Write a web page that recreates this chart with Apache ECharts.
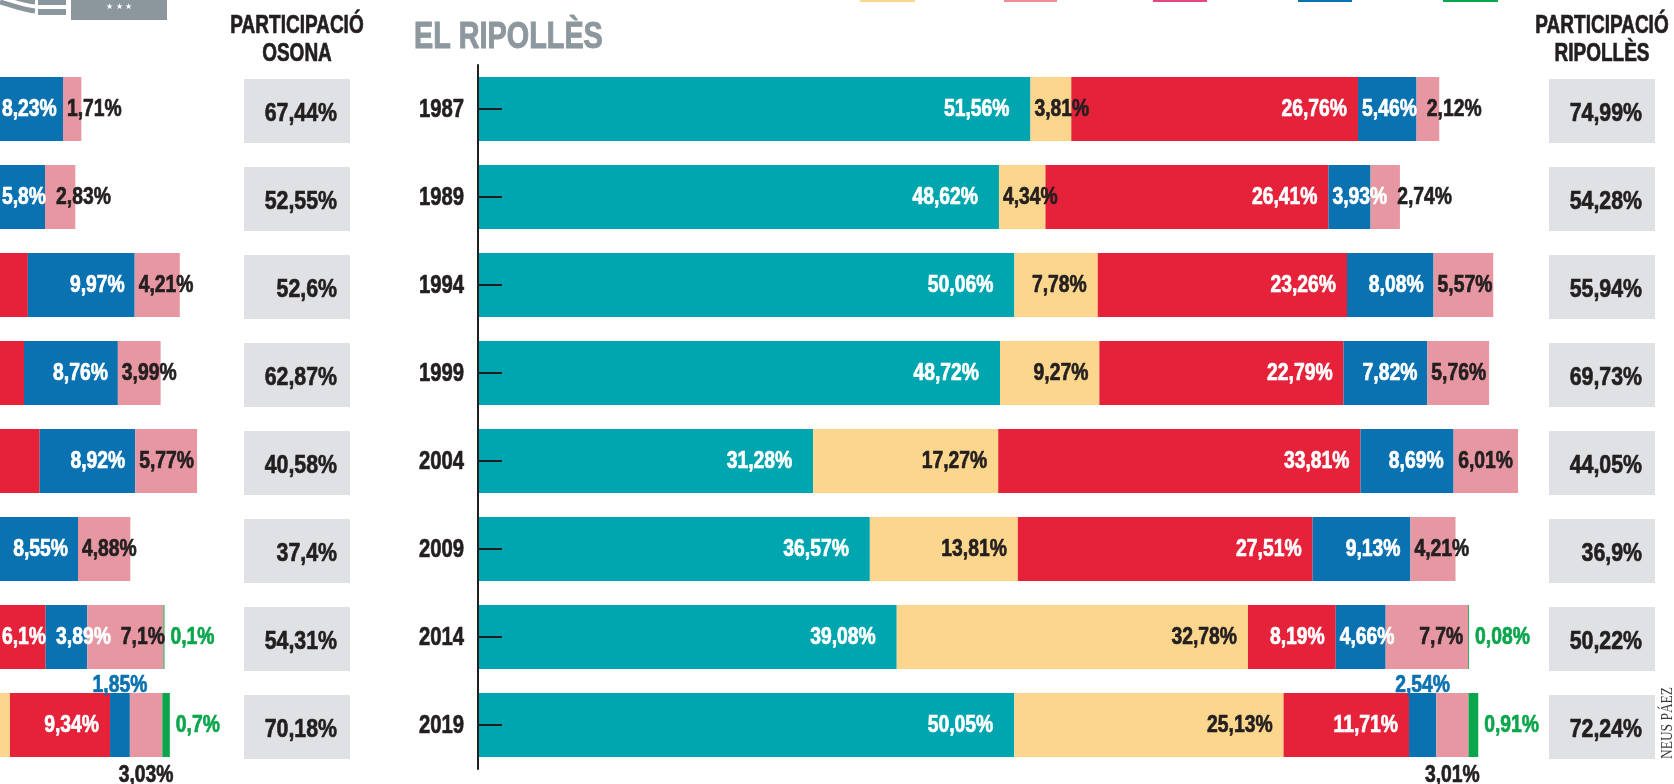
<!DOCTYPE html>
<html>
<head>
<meta charset="utf-8">
<title>Eleccions europees - Osona i el Ripollès</title>
<script src="https://cdn.jsdelivr.net/npm/echarts@6/dist/echarts.min.js"></script>
<style>
  html, body { margin: 0; padding: 0; background: #fff; }
  #chart { width: 1674px; height: 784px; }
</style>
</head>
<body>
<div id="chart"></div>
<script>
const years = ['1987', '1989', '1994', '1999', '2004', '2009', '2014', '2019'];

// El Ripollès, % of the vote
const ripCiu = [51.56, 48.62, 50.06, 48.72, 31.28, 36.57, 39.08, 50.05];
const ripErc = [3.81, 4.34, 7.78, 9.27, 17.27, 13.81, 32.78, 25.13];
const ripPsc = [26.76, 26.41, 23.26, 22.79, 33.81, 27.51, 8.19, 11.71];
const ripPp = [5.46, 3.93, 8.08, 7.82, 8.69, 9.13, 4.66, 2.54];
const ripIcv = [2.12, 2.74, 5.57, 5.76, 6.01, 4.21, 7.7, 3.01];
const ripVox = [0, 0, 0, 0, 0, 0, 0.08, 0.91];
const ripTurnout = [74.99, 54.28, 55.94, 69.73, 44.05, 36.9, 50.22, 72.24];

// Osona: the start of these bars is cut off in the picture,
// so the first three rows are rough estimates
const osoCiu = [55.32, 52.6, 54.3, 51.9, 34.6, 41.1, 40.52, 52.1];
const osoErc = [3.48, 5.9, 8.9, 11.2, 21.4, 16.3, 35.14, 26.33];
const osoPsc = [16.35, 17.4, 16.9, 16.64, 25.2, 18.83, 6.1, 9.34];
const osoPp = [8.23, 5.8, 9.97, 8.76, 8.92, 8.55, 3.89, 1.85];
const osoIcv = [1.71, 2.83, 4.21, 3.99, 5.77, 4.88, 7.1, 3.03];
const osoVox = [0, 0, 0, 0, 0, 0, 0.1, 0.7];
const osoTurnout = [67.44, 52.55, 52.6, 62.87, 40.58, 37.4, 54.31, 70.18];

// no condensed bold font installed: squeeze Liberation Sans Bold instead
const FONT = '"Liberation Sans", Arial, sans-serif';
const LBL_SIZE = 23, SX = 0.84;
const DARK = '#231f20';
const PX = 10.715;          // pixels per percentage point
const RIP_LEFT = 478;       // x of the Ripollès axis
const OSO_MIN = 77.5;       // value sitting at the left edge of the Osona chart
const TOP = 65, ROW = 88, BAR_H = 64;
const BOX_W = 106, BOX_H = 64;

const parties = [
  { name: 'CiU / Junts', color: '#00a6af', text: '#fff', outText: '#00a6af', pad: 21 },
  { name: 'ERC', color: '#fcd68c', text: DARK, outText: DARK, pad: 11 },
  { name: 'PSC', color: '#e6213a', text: '#fff', outText: '#e6213a', pad: 11 },
  { name: 'PP', color: '#0a72b0', text: '#fff', outText: '#0a72b0', pad: 10 },
  { name: 'ICV-EUiA', color: '#e697a1', text: DARK, outText: DARK, pad: 5 },
  { name: 'Vox', color: '#0ba64c', text: '#0ba64c', outText: '#0ba64c', pad: 5, outside: true }
];

const ctx = document.createElement('canvas').getContext('2d');
ctx.font = 'bold ' + LBL_SIZE + 'px ' + FONT;
const labelW = s => ctx.measureText(s).width * SX;
const pct = v => String(v).replace('.', ',') + '%';

// bold condensed-looking text (thin stroke of the same colour makes it heavier)
function txt(s, x, y, align, color, size, sx) {
  return {
    type: 'text', x, y, scaleX: sx || SX,
    style: { text: s, align, verticalAlign: 'middle', fontFamily: FONT, fontWeight: 'bold',
      fontSize: size || LBL_SIZE, fill: color, stroke: color, lineWidth: 0.7 }
  };
}

function barSeries(cols, grid) {
  return cols.map((col, k) => ({
    name: parties[k].name,
    type: 'bar',
    stack: 'g' + grid,
    xAxisIndex: grid,
    yAxisIndex: grid,
    barWidth: BAR_H,
    itemStyle: { color: parties[k].color },
    emphasis: { disabled: true },
    data: col
  }));
}

// value labels of one row: inside right when they fit, otherwise after the
// previous label, and two tiny neighbours go above / below the bar
function rowLabels(cols, grid, withAxis) {
  return {
    type: 'custom',
    xAxisIndex: grid,
    yAxisIndex: grid,
    silent: true,
    z: 10,
    encode: { x: 0, y: 1 },
    data: years.map((y, i) => [0, i]),
    renderItem: (params, api) => {
      const i = api.value(1);
      const clipLeft = params.coordSys.x;
      const yc = api.coord([0, i])[1];
      let cum = 0;
      const seg = cols.map(col => {
        const v = col[i], x0 = api.coord([cum, i])[0];
        cum += v;
        return { v, x0, x1: api.coord([cum, i])[0], w: v ? labelW(pct(v)) : 0 };
      });
      const fits = k => seg[k].x1 - seg[k].x0 >= seg[k].w + parties[k].pad + 3;
      const children = [];
      if (withAxis) {
        children.push(txt(years[i], clipLeft - 14, yc + 1, 'right', DARK, 26, 0.78));
        children.push({ type: 'line', shape: { x1: clipLeft, y1: yc, x2: clipLeft + 24, y2: yc },
          style: { stroke: DARK, lineWidth: 2 } });
      }
      let prevEnd = -Infinity, below = -1;

      seg.forEach((s, k) => {
        const p = parties[k];
        if (!s.v) return;
        const t = pct(s.v);
        if (p.outside) {
          const left = Math.max(s.x1 + 6, prevEnd + 5);
          children.push(txt(t, left, yc + 1, 'left', p.outText));
          prevEnd = left + s.w;
          return;
        }
        if (below === k) {
          children.push(txt(t, (s.x0 + s.x1) / 2, yc + BAR_H / 2 + 19, 'center', p.outText));
          return;
        }
        const n1 = seg[k + 1], n2 = seg[k + 2];
        if (!fits(k) && n1 && n1.v && !fits(k + 1) && n2 && n2.v && parties[k + 2].outside) {
          children.push(txt(t, (s.x0 + s.x1) / 2, yc - BAR_H / 2 - 7, 'center', p.outText));
          below = k + 1;
          return;
        }
        const rightStart = s.x1 - p.pad - s.w;
        const natural = fits(k) ? rightStart : s.x0 + 3;
        if (natural < clipLeft - 12) return;
        const minLeft = Math.max(s.x0 + 3, prevEnd + 4, clipLeft + 2);
        let left;
        if (rightStart >= minLeft) left = rightStart;
        else left = Math.max(s.x0 + 4, prevEnd + 10, clipLeft + 2);
        children.push(txt(t, left, yc + 1, 'left', p.text));
        prevEnd = left + s.w;
      });
      return { type: 'group', children };
    }
  };
}

function turnoutSeries(values, grid, boxLeft) {
  return {
    type: 'custom',
    xAxisIndex: grid,
    yAxisIndex: grid,
    silent: true,
    encode: { x: 0, y: 1 },
    data: values.map((v, i) => [v, i]),
    renderItem: (params, api) => {
      const y = api.coord([api.value(0), api.value(1)])[1];
      return {
        type: 'group',
        children: [
          { type: 'rect', shape: { x: boxLeft, y: y - BOX_H / 2 + 2, width: BOX_W, height: BOX_H },
            style: { fill: '#dfe1e4' } },
          txt(pct(api.value(0)), boxLeft + BOX_W - 13, y + 5, 'right', DARK, 26, 0.82)
        ]
      };
    }
  };
}

const osoCols = [osoCiu, osoErc, osoPsc, osoPp, osoIcv, osoVox];
const ripCols = [ripCiu, ripErc, ripPsc, ripPp, ripIcv, ripVox];

const gridBase = { top: TOP, height: ROW * years.length, width: 100 * PX, containLabel: false, outerBoundsMode: 'none' };

const chart = echarts.init(document.getElementById('chart'));
chart.setOption({
  animation: false,
  backgroundColor: '#fff',
  grid: [
    Object.assign({ left: 0 }, gridBase),
    Object.assign({ left: RIP_LEFT }, gridBase)
  ],
  xAxis: [
    { gridIndex: 0, type: 'value', min: OSO_MIN, max: OSO_MIN + 100, show: false },
    { gridIndex: 1, type: 'value', min: 0, max: 100, show: false }
  ],
  yAxis: [
    { gridIndex: 0, type: 'category', data: years, inverse: true, show: false },
    {
      gridIndex: 1, type: 'category', data: years, inverse: true, z: 5,
      axisLine: { onZero: false, lineStyle: { color: DARK, width: 2 } },
      axisTick: { show: false },
      axisLabel: { show: false },
      splitLine: { show: false }
    }
  ],
  series: [
    ...barSeries(osoCols, 0),
    ...barSeries(ripCols, 1),
    rowLabels(osoCols, 0, false),
    rowLabels(ripCols, 1, true),
    turnoutSeries(osoTurnout, 0, 244),
    turnoutSeries(ripTurnout, 1, 1549)
  ],
  graphic: { elements: [
    // logo at the top left, cut by the frame
    { type: 'bezierCurve', shape: { x1: 0, y1: 2, x2: 35, y2: 11, cpx1: 14, cpy1: 6, cpx2: 24, cpy2: 10 },
      style: { stroke: '#8c969d', lineWidth: 5, fill: null } },
    { type: 'bezierCurve', shape: { x1: 0, y1: -7, x2: 35, y2: 2, cpx1: 14, cpy1: -3, cpx2: 24, cpy2: 1 },
      style: { stroke: '#8c969d', lineWidth: 5, fill: null } },
    { type: 'rect', shape: { x: 38, y: 9, width: 28, height: 6 }, style: { fill: '#8c969d' } },
    { type: 'rect', shape: { x: 38, y: 0, width: 28, height: 5 }, style: { fill: '#8c969d' } },
    { type: 'rect', shape: { x: 71, y: 0, width: 96, height: 20 }, style: { fill: '#8c969d' } },
    { type: 'text', x: 119, y: 7, style: { text: '★ ★ ★', align: 'center', verticalAlign: 'middle',
      fontSize: 8, fill: '#fff' } },
    // legend swatches cut by the frame
    { type: 'rect', shape: { x: 860, y: 0, width: 55, height: 2 }, style: { fill: '#fcd68c' } },
    { type: 'rect', shape: { x: 1004, y: 0, width: 53, height: 2 }, style: { fill: '#f08d96' } },
    { type: 'rect', shape: { x: 1153, y: 0, width: 54, height: 2 }, style: { fill: '#e0467f' } },
    { type: 'rect', shape: { x: 1298, y: 0, width: 54, height: 2 }, style: { fill: '#0a72b0' } },
    { type: 'rect', shape: { x: 1443, y: 0, width: 55, height: 2 }, style: { fill: '#0ba64c' } },
    // headings
    { type: 'text', x: 414, y: 38, scaleX: 0.8, style: { text: 'EL RIPOLLÈS', align: 'left', verticalAlign: 'middle',
      fontFamily: FONT, fontWeight: 'bold', fontSize: 36, fill: '#8d979e', stroke: '#8d979e', lineWidth: 1 } },
    { type: 'text', x: 297, y: 12, scaleX: 0.76, style: { text: 'PARTICIPACIÓ\nOSONA', align: 'center', verticalAlign: 'top',
      fontFamily: FONT, fontWeight: 'bold', fontSize: 25, lineHeight: 28, fill: DARK, stroke: DARK, lineWidth: 0.7 } },
    { type: 'text', x: 1602, y: 12, scaleX: 0.76, style: { text: 'PARTICIPACIÓ\nRIPOLLÈS', align: 'center', verticalAlign: 'top',
      fontFamily: FONT, fontWeight: 'bold', fontSize: 25, lineHeight: 28, fill: DARK, stroke: DARK, lineWidth: 0.7 } },
    // credit
    { type: 'text', x: 1668, y: 723, rotation: Math.PI / 2, scaleX: 0.84,
      style: { text: 'NEUS PÁEZ', align: 'center', verticalAlign: 'middle',
        fontFamily: '"Liberation Serif", serif', fontSize: 16, fill: '#3a3a3a' } }
  ] }
});
</script>
</body>
</html>
